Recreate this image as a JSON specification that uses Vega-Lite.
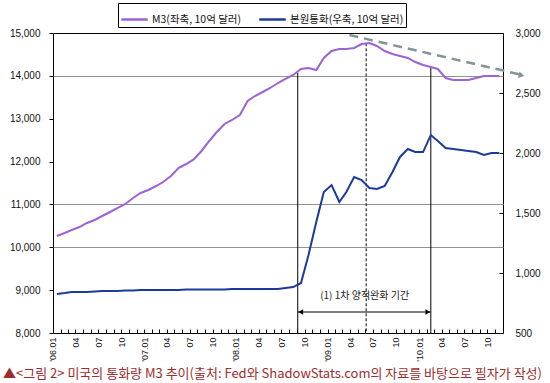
{
"$schema": "https://vega.github.io/schema/vega-lite/v6.json",
"width": 450, "height": 300, "autosize": "none",
"padding": {"left": 53, "top": 33, "right": 47, "bottom": 50},
"background": "white",
"config": {
  "view": {"stroke": "#000", "strokeWidth": 1},
  "font": "Noto Sans CJK KR",
  "axis": {"domain": false, "domainColor": "#000", "tickColor": "#000", "labelColor": "#111", "labelFont": "Liberation Sans", "labelFontSize": 10, "grid": false, "title": null}
},
"title": {"text": "▲<그림 2> 미국의 통화량 M3 추이(출처: Fed와 ShadowStats.com의 자료를 바탕으로 필자가 작성)", "orient": "bottom", "anchor": "start", "frame": "group", "dx": -50, "offset": 7, "fontSize": 13, "fontWeight": "normal", "color": "#9b2d2d", "font": "Noto Sans CJK KR"},
"datasets": {
  "m3": [
    {"date": "2006-01-01", "value": 10263}, {"date": "2006-02-01", "value": 10333}, {"date": "2006-03-01", "value": 10403}, {"date": "2006-04-01", "value": 10473},
    {"date": "2006-05-01", "value": 10567}, {"date": "2006-06-01", "value": 10637}, {"date": "2006-07-01", "value": 10730}, {"date": "2006-08-01", "value": 10823},
    {"date": "2006-09-01", "value": 10917}, {"date": "2006-10-01", "value": 11010}, {"date": "2006-11-01", "value": 11150}, {"date": "2006-12-01", "value": 11267},
    {"date": "2007-01-01", "value": 11337}, {"date": "2007-02-01", "value": 11430}, {"date": "2007-03-01", "value": 11523}, {"date": "2007-04-01", "value": 11663},
    {"date": "2007-05-01", "value": 11850}, {"date": "2007-06-01", "value": 11943}, {"date": "2007-07-01", "value": 12050}, {"date": "2007-08-01", "value": 12247},
    {"date": "2007-09-01", "value": 12480}, {"date": "2007-10-01", "value": 12690}, {"date": "2007-11-01", "value": 12877}, {"date": "2007-12-01", "value": 12970},
    {"date": "2008-01-01", "value": 13087}, {"date": "2008-02-01", "value": 13413}, {"date": "2008-03-01", "value": 13530}, {"date": "2008-04-01", "value": 13623},
    {"date": "2008-05-01", "value": 13717}, {"date": "2008-06-01", "value": 13833}, {"date": "2008-07-01", "value": 13927}, {"date": "2008-08-01", "value": 14020},
    {"date": "2008-09-01", "value": 14160}, {"date": "2008-10-01", "value": 14183}, {"date": "2008-11-01", "value": 14137}, {"date": "2008-12-01", "value": 14417},
    {"date": "2009-01-01", "value": 14580}, {"date": "2009-02-01", "value": 14627}, {"date": "2009-03-01", "value": 14627}, {"date": "2009-04-01", "value": 14650},
    {"date": "2009-05-01", "value": 14743}, {"date": "2009-06-01", "value": 14767}, {"date": "2009-07-01", "value": 14697}, {"date": "2009-08-01", "value": 14580},
    {"date": "2009-09-01", "value": 14510}, {"date": "2009-10-01", "value": 14463}, {"date": "2009-11-01", "value": 14417}, {"date": "2009-12-01", "value": 14323},
    {"date": "2010-01-01", "value": 14253}, {"date": "2010-02-01", "value": 14207}, {"date": "2010-03-01", "value": 14160}, {"date": "2010-04-01", "value": 13950},
    {"date": "2010-05-01", "value": 13903}, {"date": "2010-06-01", "value": 13903}, {"date": "2010-07-01", "value": 13903}, {"date": "2010-08-01", "value": 13950},
    {"date": "2010-09-01", "value": 13997}, {"date": "2010-10-01", "value": 13997}, {"date": "2010-11-01", "value": 13997}
  ],
  "mb": [
    {"date": "2006-01-01", "value": 825}, {"date": "2006-02-01", "value": 833}, {"date": "2006-03-01", "value": 842}, {"date": "2006-04-01", "value": 842},
    {"date": "2006-05-01", "value": 842}, {"date": "2006-06-01", "value": 846}, {"date": "2006-07-01", "value": 850}, {"date": "2006-08-01", "value": 850},
    {"date": "2006-09-01", "value": 850}, {"date": "2006-10-01", "value": 854}, {"date": "2006-11-01", "value": 854}, {"date": "2006-12-01", "value": 858},
    {"date": "2007-01-01", "value": 858}, {"date": "2007-02-01", "value": 858}, {"date": "2007-03-01", "value": 858}, {"date": "2007-04-01", "value": 858},
    {"date": "2007-05-01", "value": 858}, {"date": "2007-06-01", "value": 862}, {"date": "2007-07-01", "value": 862}, {"date": "2007-08-01", "value": 862},
    {"date": "2007-09-01", "value": 862}, {"date": "2007-10-01", "value": 862}, {"date": "2007-11-01", "value": 862}, {"date": "2007-12-01", "value": 867},
    {"date": "2008-01-01", "value": 867}, {"date": "2008-02-01", "value": 867}, {"date": "2008-03-01", "value": 867}, {"date": "2008-04-01", "value": 867},
    {"date": "2008-05-01", "value": 867}, {"date": "2008-06-01", "value": 867}, {"date": "2008-07-01", "value": 875}, {"date": "2008-08-01", "value": 883},
    {"date": "2008-09-01", "value": 917}, {"date": "2008-10-01", "value": 1150}, {"date": "2008-11-01", "value": 1425}, {"date": "2008-12-01", "value": 1675},
    {"date": "2009-01-01", "value": 1733}, {"date": "2009-02-01", "value": 1592}, {"date": "2009-03-01", "value": 1675}, {"date": "2009-04-01", "value": 1800},
    {"date": "2009-05-01", "value": 1775}, {"date": "2009-06-01", "value": 1708}, {"date": "2009-07-01", "value": 1700}, {"date": "2009-08-01", "value": 1725},
    {"date": "2009-09-01", "value": 1842}, {"date": "2009-10-01", "value": 1967}, {"date": "2009-11-01", "value": 2033}, {"date": "2009-12-01", "value": 2008},
    {"date": "2010-01-01", "value": 2008}, {"date": "2010-02-01", "value": 2150}, {"date": "2010-03-01", "value": 2100}, {"date": "2010-04-01", "value": 2042},
    {"date": "2010-05-01", "value": 2033}, {"date": "2010-06-01", "value": 2025}, {"date": "2010-07-01", "value": 2017}, {"date": "2010-08-01", "value": 2008},
    {"date": "2010-09-01", "value": 1983}, {"date": "2010-10-01", "value": 2000}, {"date": "2010-11-01", "value": 2000}
  ],
  "qe": [
    {"date": "2008-08-19", "value": 14070, "value2": 8000},
    {"date": "2010-02-01", "value": 14190, "value2": 8000}
  ],
  "peak": [
    {"date": "2009-05-19", "value": 14760, "value2": 8000}
  ],
  "span": [
    {"date": "2008-08-19", "date2": "2010-02-01", "value": 8490}
  ],
  "note": [
    {"date": "2009-05-13", "value": 8864, "label": "(1) 1차 양적완화 기간"}
  ],
  "trend": [
    {"date": "2009-03-13", "value": 14953},
    {"date": "2011-01-25", "value": 14030}
  ],
  "trendEnd": [
    {"date": "2011-01-29", "value": 14010}
  ]
},
"encoding": {
  "x": {"field": "date", "type": "temporal",
    "scale": {"type": "utc", "domain": [{"year": 2005, "month": 12, "date": 16, "hours": 12, "utc": true}, {"year": 2010, "month": 11, "date": 16, "utc": true}]},
    "axis": {"title": null, "tickCount": {"interval": "month", "step": 1}, "tickSize": -4, "tickOffset": -4, "labelPadding": 8, "labelAngle": -90, "labelFontSize": 9, "labelOverlap": false, "labelBound": false, "labelFlush": false,
      "labelExpr": "utcmonth(datum.value) % 3 != 0 ? '' : (utcmonth(datum.value) == 0 ? utcFormat(datum.value, \"'%y.%m\") : utcFormat(datum.value, '%m'))"}}
},
"layer": [
  {
    "encoding": {
      "y": {"field": "value", "type": "quantitative", "scale": {"domain": [8000, 15000], "nice": false, "zero": false},
        "axis": {"orient": "left", "title": null, "values": [8000, 9000, 10000, 11000, 12000, 13000, 14000, 15000], "format": ",.0f", "tickSize": 4, "labelPadding": 9,
          "grid": true, "gridColor": "#8c9494", "gridOpacity": {"condition": {"test": "datum.value == 14000 || datum.value == 11000 || datum.value == 10000", "value": 1}, "value": 0}}}
    },
    "layer": [
      {"data": {"name": "qe"}, "mark": {"type": "rule", "color": "#000", "strokeWidth": 1}, "encoding": {"y2": {"field": "value2"}}},
      {"data": {"name": "peak"}, "mark": {"type": "rule", "color": "#000", "strokeWidth": 1, "strokeDash": [3, 2]}, "encoding": {"y2": {"field": "value2"}}},
      {"data": {"name": "span"}, "mark": {"type": "rule", "color": "#000", "strokeWidth": 1}, "encoding": {"x2": {"field": "date2"}}},
      {"data": {"name": "span"}, "mark": {"type": "point", "shape": "triangle-left", "filled": true, "color": "#000", "size": 30, "opacity": 1, "xOffset": 3}, "encoding": {}},
      {"data": {"name": "span"}, "mark": {"type": "point", "shape": "triangle-right", "filled": true, "color": "#000", "size": 30, "opacity": 1, "xOffset": -3}, "encoding": {"x": {"field": "date2", "type": "temporal"}}},
      {"data": {"name": "note"}, "mark": {"type": "text", "fontSize": 10, "color": "#222", "font": "Noto Sans CJK KR", "letterSpacing": 0.8}, "encoding": {"text": {"field": "label"}}},
      {"data": {"name": "trend"}, "mark": {"type": "line", "color": "#83939a", "strokeWidth": 2.5, "strokeDash": [9, 6], "clip": false}, "encoding": {}},
      {"data": {"name": "trendEnd"}, "mark": {"type": "point", "shape": "triangle-right", "angle": 13, "filled": true, "color": "#83939a", "size": 45, "opacity": 1, "clip": false}, "encoding": {}},
      {"data": {"name": "m3"}, "mark": {"type": "line", "strokeWidth": 2},
        "encoding": {"color": {"datum": "M3(좌축, 10억 달러)",
          "scale": {"domain": ["M3(좌축, 10억 달러)", "본원통화(우축, 10억 달러)"], "range": ["#9b63d6", "#1b3a9c"]},
          "legend": {"orient": "none", "legendX": 65, "legendY": -30, "direction": "horizontal", "title": null, "strokeColor": "#000", "fillColor": "white", "padding": 2,
            "symbolType": "stroke", "symbolStrokeWidth": 2.5, "symbolSize": 700, "labelFontSize": 10.5, "labelFont": "Noto Sans CJK KR", "labelColor": "#111", "columnPadding": 12, "labelOffset": 3}}}}
    ]
  },
  {"data": {"name": "mb"}, "mark": {"type": "line", "strokeWidth": 2},
    "encoding": {
      "y": {"field": "value", "type": "quantitative", "scale": {"domain": [500, 3000], "nice": false, "zero": false},
        "axis": {"orient": "right", "title": null, "values": [500, 1000, 1500, 2000, 2500, 3000], "format": ",.0f", "tickSize": -4, "labelPadding": 16, "grid": false}},
      "color": {"datum": "본원통화(우축, 10억 달러)"}
    }}
],
"resolve": {"scale": {"y": "independent"}}
}
